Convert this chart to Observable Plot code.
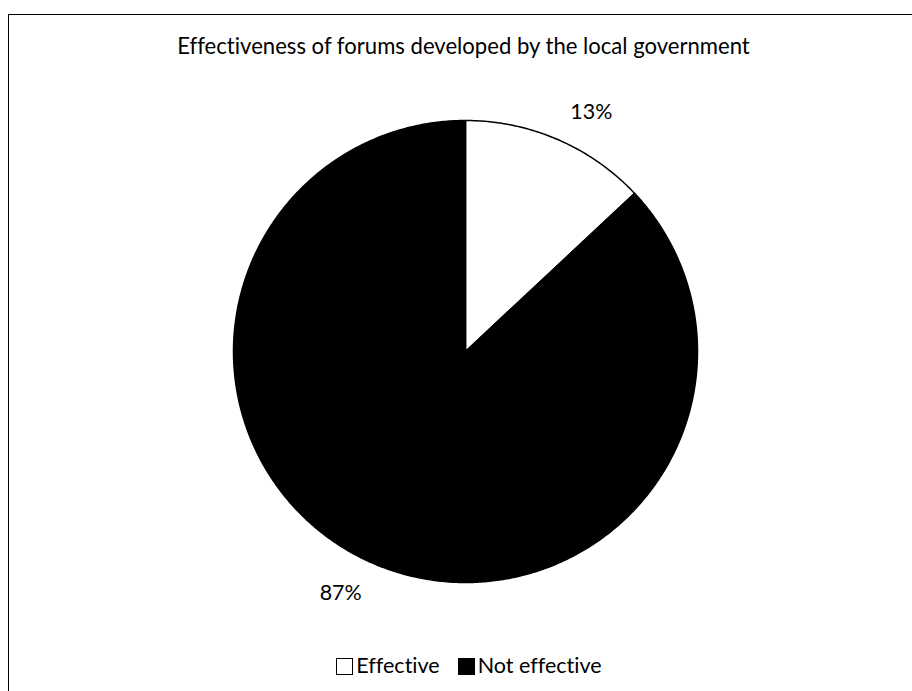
<!DOCTYPE html>
<html>
<head>
<meta charset="utf-8">
<script src="https://cdn.jsdelivr.net/npm/d3@7"></script>
<script src="https://cdn.jsdelivr.net/npm/@observablehq/plot@0.6"></script>
<style>
  html, body { margin: 0; padding: 0; background: #fff; overflow: hidden; }
  body { width: 912px; height: 691px; position: relative; font-family: Lato, "Open Sans", sans-serif; color: #000; font-variant-ligatures: none; }
  svg text { font-variant-ligatures: none; }
  #frame { position: absolute; left: 8px; top: 14px; width: 1000px; height: 1000px; border: 1.5px solid #000; box-sizing: border-box; }
  #chart { position: absolute; left: 0; top: 0; }
  #title { position: absolute; left: 0; width: 927px; top: 33px; text-align: center; font-size: 23px; line-height: 26px; white-space: nowrap; }
  #legend { position: absolute; left: 0; width: 938px; top: 652px; text-align: center; font-size: 23px; line-height: 26px; white-space: nowrap; }
  .sw { display: inline-block; width: 17px; height: 17px; border: 1.5px solid #000; box-sizing: border-box; vertical-align: -2px; margin-right: 3px; }
  .item { display: inline-block; margin: 0 9px; }
</style>
</head>
<body>
<div id="frame"></div>
<div id="chart"></div>
<div id="title"></div>
<div id="legend"></div>
<script>
const title = "Effectiveness of forums developed by the local government";
const categories = ["Effective", "Not effective"];
const shares = [13, 87];
const sliceColors = ["white", "black"];
const valueLabels = ["13%", "87%"];

// font sizes fitted so text widths match the reference (Calibri-like metrics)
const measurer = document.createElement("span");
measurer.style.cssText = "position:absolute;visibility:hidden;white-space:nowrap;font-family:Lato;font-size:100px;font-variant-ligatures:none;";
document.body.appendChild(measurer);
function fitSize(text, target) {
  measurer.textContent = text;
  return 100 * target / measurer.getBoundingClientRect().width;
}
const titleSize = fitSize(title, 573);
const legendSize = fitSize(categories[1], 124);
const labelSize = fitSize(valueLabels[1], 42);
measurer.remove();

const rows = categories.map((c, i) => ({cat: c, value: shares[i], color: sliceColors[i], label: valueLabels[i]}));
const arcs = d3.pie().sort(null).value(d => d.value)(rows);

const pts = [];
for (const a of arcs) {
  pts.push({cat: a.data.cat, color: a.data.color, x: 0, y: 0});
  const n = Math.max(4, Math.ceil((a.endAngle - a.startAngle) / (Math.PI / 360)));
  for (let k = 0; k <= n; k++) {
    const t = a.startAngle + (a.endAngle - a.startAngle) * k / n;
    pts.push({cat: a.data.cat, color: a.data.color, x: Math.sin(t), y: Math.cos(t)});
  }
  pts.push({cat: a.data.cat, color: a.data.color, x: 0, y: 0});
}
const labelPos = arcs.map(a => {
  const m = (a.startAngle + a.endAngle) / 2;
  return {cat: a.data.cat, label: a.data.label, x: 1.17 * Math.sin(m), y: 1.17 * Math.cos(m)};
});

const plot = Plot.plot({
  width: 912,
  height: 691,
  marginLeft: 233,
  marginRight: 215,
  marginTop: 120,
  marginBottom: 109,
  x: {domain: [-1, 1], axis: null},
  y: {domain: [-1, 1], axis: null},
  color: {type: "identity"},
  style: {background: "transparent", fontFamily: "Lato, 'Open Sans', sans-serif"},
  marks: [
    Plot.line(pts, {x: "x", y: "y", z: "cat", fill: "color", stroke: "black", strokeWidth: 1.5, curve: "linear", strokeLinejoin: "miter"}),
    Plot.text(labelPos.filter(d => d.cat === categories[0]), {x: "x", y: "y", text: "label", fontSize: labelSize, fill: "black", dx: 18, dy: 9}),
    Plot.text(labelPos.filter(d => d.cat === categories[1]), {x: "x", y: "y", text: "label", fontSize: labelSize, fill: "black", dx: -17, dy: -6})
  ]
});
document.getElementById("chart").appendChild(plot);

const titleEl = document.getElementById("title");
titleEl.textContent = title;
titleEl.style.fontSize = titleSize + "px";
const legend = document.getElementById("legend");
legend.style.fontSize = legendSize + "px";
categories.forEach((c, i) => {
  const item = document.createElement("span");
  item.className = "item";
  const sw = document.createElement("span");
  sw.className = "sw";
  sw.style.background = sliceColors[i];
  item.appendChild(sw);
  item.appendChild(document.createTextNode(c));
  legend.appendChild(item);
});
</script>
</body>
</html>
